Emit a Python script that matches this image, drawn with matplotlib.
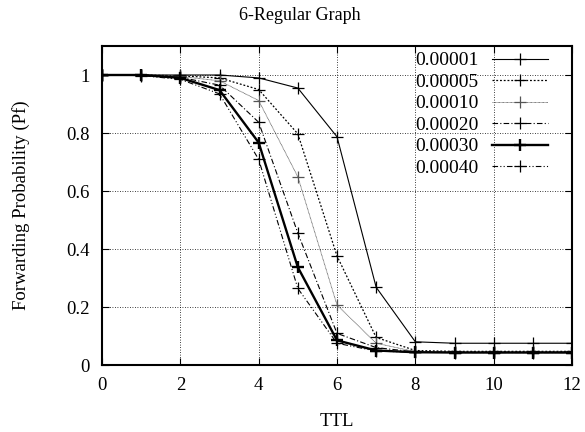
import matplotlib
matplotlib.use("Agg")
import matplotlib.pyplot as plt
from matplotlib.ticker import FormatStrFormatter

plt.rcParams["font.family"] = ["Liberation Serif", "DejaVu Serif"]

# --------------------------------------------------------------------------- #
# data
# --------------------------------------------------------------------------- #
ttl = [0, 1, 2, 3, 4, 5, 6, 7, 8, 9, 10, 11, 12]
labels = ["0.00001", "0.00005", "0.00010", "0.00020", "0.00030", "0.00040"]
pf_00001 = [1.0, 1.0, 1.0, 1.0, 0.99, 0.955, 0.787, 0.268, 0.08, 0.075, 0.075, 0.075, 0.075]
pf_00005 = [1.0, 1.0, 0.997, 0.99, 0.95, 0.797, 0.376, 0.095, 0.05, 0.047, 0.047, 0.047, 0.047]
pf_00010 = [1.0, 1.0, 0.995, 0.98, 0.912, 0.649, 0.207, 0.075, 0.046, 0.045, 0.045, 0.045, 0.045]
pf_00020 = [1.0, 1.0, 0.992, 0.965, 0.837, 0.455, 0.109, 0.06, 0.045, 0.044, 0.044, 0.044, 0.044]
pf_00030 = [1.0, 1.0, 0.99, 0.948, 0.767, 0.337, 0.085, 0.05, 0.044, 0.043, 0.043, 0.043, 0.043]
pf_00040 = [1.0, 0.998, 0.985, 0.935, 0.709, 0.264, 0.075, 0.048, 0.044, 0.043, 0.043, 0.043, 0.043]
series = [pf_00001, pf_00005, pf_00010, pf_00020, pf_00030, pf_00040]

# line styles (gnuplot-like)
STYLES = [
    dict(ls="-", lw=0.8, color="black"),
    dict(ls=(0, (1.5, 1.5)), lw=0.9, color="black"),
    dict(ls=(0, (1, 0.6)), lw=0.6, color="#555555"),
    dict(ls=(0, (5, 2, 1, 2)), lw=0.8, color="black"),
    dict(ls="-", lw=1.7, color="black"),
    dict(ls=(0, (5, 2, 1, 2, 1, 2)), lw=0.8, color="black"),
]

fig = plt.figure(figsize=(5.85, 4.32), dpi=100)
ax = fig.add_axes([102 / 585, 67 / 432, 470 / 585, 319 / 432])

for y, lab, st in zip(series, labels, STYLES):
    ax.plot(ttl, y, label=lab, marker="+", markersize=9,
            markeredgewidth=st["lw"] if st["lw"] > 1 else 0.9,
            linestyle=st["ls"], lw=st["lw"], color=st["color"])

ax.set_xlim(0, 12)
ax.set_ylim(0, 1.1)
ax.set_xticks(range(0, 13, 2))
ax.set_yticks([0, 0.2, 0.4, 0.6, 0.8, 1.0])
ax.yaxis.set_major_formatter(FormatStrFormatter("%g"))
ax.tick_params(direction="in", top=True, right=True, length=5, width=0.8,
               labelsize=13.5, pad=9)
ax.grid(True, linestyle=(0, (1, 2)), color="black", lw=0.6)
for s in ax.spines.values():
    s.set_linewidth(1.5)

ax.set_xlabel("TTL", fontsize=13.5)
ax.set_ylabel("Forwarding Probability (Pf)", fontsize=13.5)
ax.xaxis.set_label_coords(0.5, -0.150)
ax.yaxis.set_label_coords(-0.153, 0.5)
fig.text(300 / 585, 1 - 15 / 432, "6-Regular Graph", ha="center", va="center",
         fontsize=13)

leg = ax.legend(loc="upper right", bbox_to_anchor=(0.966, 1.006),
                frameon=False, markerfirst=False,
                fontsize=14, handlelength=2.9, labelspacing=0.2,
                borderaxespad=0.0, handletextpad=0.7)

fig.savefig("out.png", dpi=100)
